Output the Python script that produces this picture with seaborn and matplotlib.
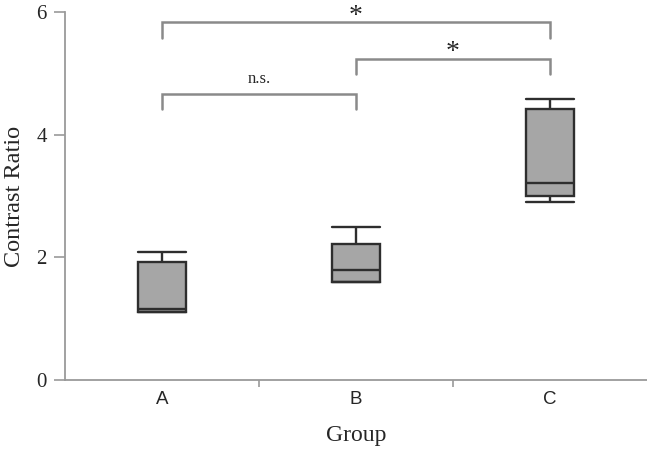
import numpy as np
import pandas as pd
import matplotlib
matplotlib.use("Agg")
import matplotlib.pyplot as plt
import seaborn as sns

# five values per group (min, Q1, median, Q3, max)
groups = ["A", "B", "C"]
vals_a = [1.11, 1.11, 1.16, 1.92, 2.09]
vals_b = [1.60, 1.60, 1.79, 2.22, 2.49]
vals_c = [2.90, 3.00, 3.21, 4.42, 4.58]

# significance brackets: (left group, right group, bar height, drop to, label, label y)
brackets = [
    (0, 2, 5.83, 5.57, "*", 5.72),
    (1, 2, 5.23, 4.99, "*", 5.13),
    (0, 1, 4.66, 4.42, "n.s.", 4.77),
]

df = pd.DataFrame({
    "Group": ["A"] * len(vals_a) + ["B"] * len(vals_b) + ["C"] * len(vals_c),
    "Contrast Ratio": vals_a + vals_b + vals_c,
})

sns.set_style("white")
plt.rcParams["font.family"] = ["Liberation Serif", "DejaVu Serif"]

SPINE = "#9a9a9a"
EDGE = "#2e2e2e"

fig = plt.figure(figsize=(6.47, 4.5), dpi=100)
ax = fig.add_axes([0.1005, 0.1556, 0.8995, 0.8177])

sns.boxplot(data=df, x="Group", y="Contrast Ratio", order=groups, ax=ax,
            width=0.245, whis=(0, 100), color="#a6a6a6", saturation=1,
            linecolor=EDGE, linewidth=1.7, showfliers=False)

# caps as wide as the box
for cont in ax.containers:
    for cap in getattr(cont, "caps", []):
        x = cap.get_xdata()
        c = np.mean(x)
        cap.set_xdata([c - 0.1225, c + 0.1225])

ax.set_xlim(-0.5, 2.5)
ax.set_ylim(0, 6)
ax.set_yticks([0, 2, 4, 6])
ax.set_xticks([0, 1, 2])
ax.set_xticklabels(groups, family=["Liberation Sans", "DejaVu Sans"], fontsize=13.5)
ax.set_xticks([0.5, 1.5], minor=True)
ax.tick_params(axis="x", which="major", length=0, pad=8)
ax.tick_params(axis="x", which="minor", length=5, width=1.2, color=SPINE, bottom=True)
ax.tick_params(axis="y", length=8, width=1.2, color=SPINE, labelsize=15, pad=5, left=True)

for side in ["top", "right"]:
    ax.spines[side].set_visible(False)
for side in ["left", "bottom"]:
    ax.spines[side].set_color(SPINE)
    ax.spines[side].set_linewidth(1.3)

ax.set_xlabel("Group", fontsize=17, labelpad=12)
ax.set_ylabel("Contrast Ratio", fontsize=17.5, labelpad=8)

for x0, x1, h, d, lab, ly in brackets:
    ax.plot([x0, x0, x1, x1], [d, h, h, d], color="#8a8a8a", lw=1.8,
            clip_on=False, solid_joinstyle="miter")
    ax.text((x0 + x1) / 2, ly, lab, ha="center", va="bottom",
            fontsize=20 if lab == "*" else 12, clip_on=False)

fig.savefig("out.png", dpi=100)
